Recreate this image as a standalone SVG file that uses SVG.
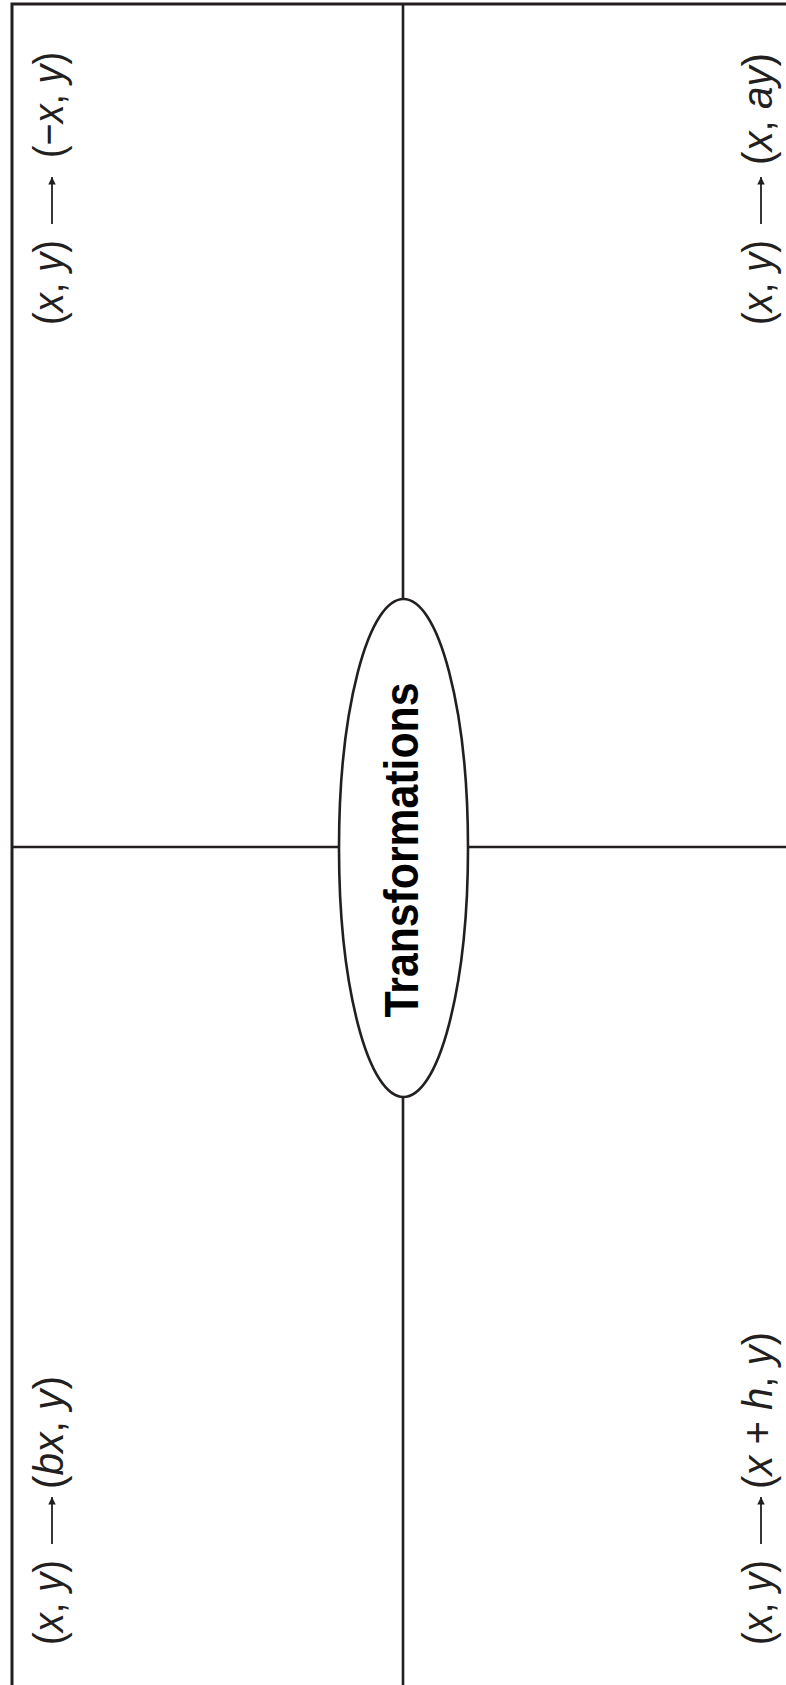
<svg xmlns="http://www.w3.org/2000/svg" width="786" height="1685" viewBox="0 0 786 1685">
<style>
.frame{stroke:#231f20;stroke-width:3;fill:none}
.div{stroke:#231f20;stroke-width:2.6;fill:none}
.lbl{font-family:"Liberation Sans",Arial,Helvetica,sans-serif;font-size:42px;fill:#231f20}
.it{font-style:italic}
.arr{stroke:#231f20;stroke-width:1.8;fill:none}
.title{font-family:"Liberation Sans",Arial,Helvetica,sans-serif;font-size:48px;font-weight:bold;fill:#000}
</style>
<defs>
<marker id="ah" viewBox="0 0 10 10" refX="10" refY="5" markerWidth="9" markerHeight="7.5" markerUnits="userSpaceOnUse" orient="auto">
<path d="M0,0 L10,5 L0,10 z" fill="#231f20"/>
</marker>
</defs>
<rect width="786" height="1685" fill="#fff"/>
<g id="frame">
<path class="frame" d="M12,1685 V4 H786"/>
</g>
<g id="connectors">
<line class="div" x1="403" y1="4" x2="403" y2="599"/>
<line class="div" x1="403" y1="1097" x2="403" y2="1685"/>
<line class="div" x1="12" y1="847" x2="339" y2="847"/>
<line class="div" x1="468" y1="847" x2="786" y2="847"/>
</g>
<g id="center">
<ellipse cx="403.5" cy="848" rx="64.5" ry="249" fill="#fff" stroke="#231f20" stroke-width="2.6"/>
<text class="title" transform="translate(418,850) rotate(-90)" x="0" y="0" text-anchor="middle" textLength="335" lengthAdjust="spacingAndGlyphs">Transformations</text>
</g>
<g id="reflection" transform="translate(63,325) rotate(-90)">
<text class="lbl" x="0" y="0" textLength="85" lengthAdjust="spacingAndGlyphs">(<tspan class="it">x</tspan>, <tspan class="it">y</tspan>)</text>
<line class="arr" x1="101" y1="-11" x2="148" y2="-11" marker-end="url(#ah)"/>
<text class="lbl" x="167" y="0" textLength="106" lengthAdjust="spacingAndGlyphs">(−<tspan class="it">x</tspan>, <tspan class="it">y</tspan>)</text>
</g>
<g id="vertical-stretch" transform="translate(772,325) rotate(-90)">
<text class="lbl" x="0" y="0" textLength="85" lengthAdjust="spacingAndGlyphs">(<tspan class="it">x</tspan>, <tspan class="it">y</tspan>)</text>
<line class="arr" x1="101" y1="-11" x2="148" y2="-11" marker-end="url(#ah)"/>
<text class="lbl" x="160" y="0" textLength="112" lengthAdjust="spacingAndGlyphs">(<tspan class="it">x</tspan>, <tspan class="it">ay</tspan>)</text>
</g>
<g id="horizontal-stretch" transform="translate(63,1645) rotate(-90)">
<text class="lbl" x="0" y="0" textLength="85" lengthAdjust="spacingAndGlyphs">(<tspan class="it">x</tspan>, <tspan class="it">y</tspan>)</text>
<line class="arr" x1="101" y1="-11" x2="148" y2="-11" marker-end="url(#ah)"/>
<text class="lbl" x="156" y="0" textLength="113" lengthAdjust="spacingAndGlyphs">(<tspan class="it">bx</tspan>, <tspan class="it">y</tspan>)</text>
</g>
<g id="translation" transform="translate(772,1645) rotate(-90)">
<text class="lbl" x="0" y="0" textLength="85" lengthAdjust="spacingAndGlyphs">(<tspan class="it">x</tspan>, <tspan class="it">y</tspan>)</text>
<line class="arr" x1="101" y1="-11" x2="148" y2="-11" marker-end="url(#ah)"/>
<text class="lbl" x="156" y="0" textLength="157" lengthAdjust="spacingAndGlyphs">(<tspan class="it">x</tspan> + <tspan class="it">h</tspan>, <tspan class="it">y</tspan>)</text>
</g>
</svg>
